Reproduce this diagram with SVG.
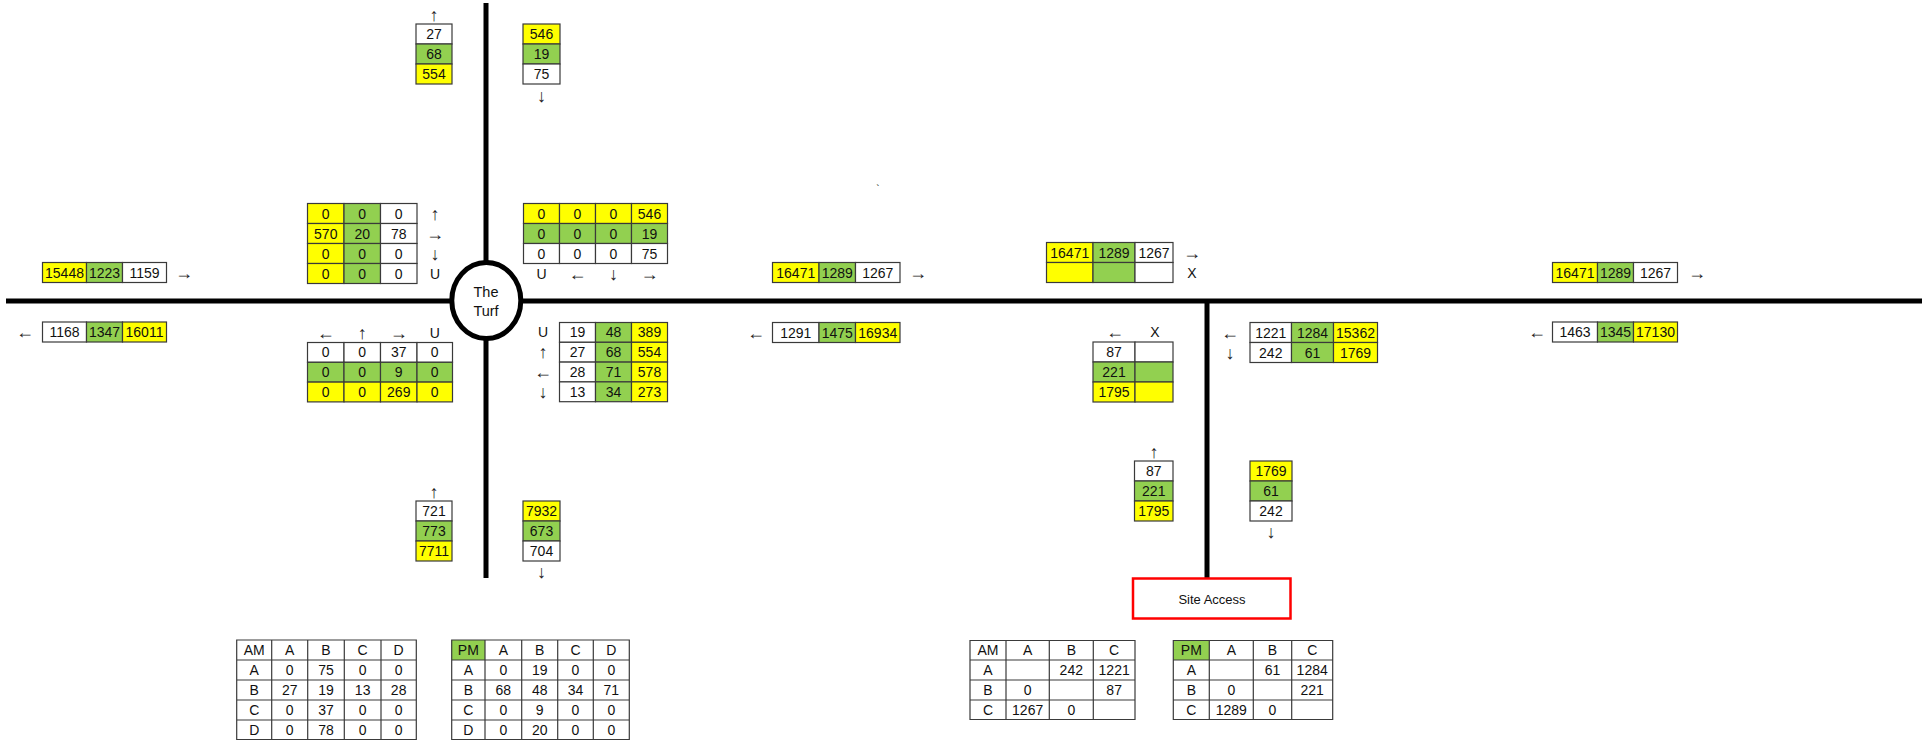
<svg xmlns="http://www.w3.org/2000/svg" width="1927" height="742" viewBox="0 0 1927 742">
<style>
.c{stroke:#3a3a3a;stroke-width:1.2}
.y{fill:#ffff00}.g{fill:#92d050}.w{fill:#ffffff}
.tb{fill:none;stroke:#3a3a3a;stroke-width:1.2}
text{font-family:"Liberation Sans",Arial,sans-serif;font-size:14px;text-anchor:middle;dominant-baseline:central;fill:#111}
.a{font-family:"Liberation Sans","DejaVu Sans",sans-serif;font-size:18px;fill:#222}
.road{stroke:#000;stroke-width:5;fill:none}
</style>
<rect width="1927" height="742" fill="#fff"/>

<g id="connectors">
<line class="road" x1="6" y1="301" x2="1922" y2="301"/>
<line class="road" x1="486" y1="3" x2="486" y2="578"/>
<line class="road" x1="1207" y1="301" x2="1207" y2="578"/>
</g>

<g id="the-turf">
<ellipse cx="486.3" cy="300.5" rx="34.5" ry="38" fill="#fff" stroke="#000" stroke-width="5"/>
<text x="486" y="292" style="font-size:14.5px">The</text>
<text x="486" y="311" style="font-size:14.5px">Turf</text>
</g>

<g id="north-in">
<text class="a" x="434" y="15">↑</text>
<rect class="c w" x="416" y="24" width="36" height="20"/><text x="434" y="34">27</text>
<rect class="c g" x="416" y="44" width="36" height="20"/><text x="434" y="54">68</text>
<rect class="c y" x="416" y="64" width="36" height="20"/><text x="434" y="74">554</text>
</g>
<g id="north-out">
<rect class="c y" x="523" y="24" width="37" height="20"/><text x="541.5" y="34">546</text>
<rect class="c g" x="523" y="44" width="37" height="20"/><text x="541.5" y="54">19</text>
<rect class="c w" x="523" y="64" width="37" height="20"/><text x="541.5" y="74">75</text>
<text class="a" x="541.5" y="96">↓</text>
</g>

<g id="turf-nw-grid">
<rect class="c y" x="307.5" y="203.5" width="36.5" height="20"/><text x="325.75" y="213.5">0</text>
<rect class="c g" x="344" y="203.5" width="36.5" height="20"/><text x="362.25" y="213.5">0</text>
<rect class="c w" x="380.5" y="203.5" width="36.5" height="20"/><text x="398.75" y="213.5">0</text>
<text class="a" x="435" y="213.5">↑</text>
<rect class="c y" x="307.5" y="223.5" width="36.5" height="20"/><text x="325.75" y="233.5">570</text>
<rect class="c g" x="344" y="223.5" width="36.5" height="20"/><text x="362.25" y="233.5">20</text>
<rect class="c w" x="380.5" y="223.5" width="36.5" height="20"/><text x="398.75" y="233.5">78</text>
<text class="a" x="435" y="233.5">→</text>
<rect class="c y" x="307.5" y="243.5" width="36.5" height="20"/><text x="325.75" y="253.5">0</text>
<rect class="c g" x="344" y="243.5" width="36.5" height="20"/><text x="362.25" y="253.5">0</text>
<rect class="c w" x="380.5" y="243.5" width="36.5" height="20"/><text x="398.75" y="253.5">0</text>
<text class="a" x="435" y="253.5">↓</text>
<rect class="c y" x="307.5" y="263.5" width="36.5" height="20"/><text x="325.75" y="273.5">0</text>
<rect class="c g" x="344" y="263.5" width="36.5" height="20"/><text x="362.25" y="273.5">0</text>
<rect class="c w" x="380.5" y="263.5" width="36.5" height="20"/><text x="398.75" y="273.5">0</text>
<text x="435" y="273.5">U</text>
</g>

<g id="turf-ne-grid">
<rect class="c y" x="523.5" y="203.5" width="36" height="20"/><text x="541.5" y="213.5">0</text>
<rect class="c y" x="559.5" y="203.5" width="36" height="20"/><text x="577.5" y="213.5">0</text>
<rect class="c y" x="595.5" y="203.5" width="36" height="20"/><text x="613.5" y="213.5">0</text>
<rect class="c y" x="631.5" y="203.5" width="36" height="20"/><text x="649.5" y="213.5">546</text>
<rect class="c g" x="523.5" y="223.5" width="36" height="20"/><text x="541.5" y="233.5">0</text>
<rect class="c g" x="559.5" y="223.5" width="36" height="20"/><text x="577.5" y="233.5">0</text>
<rect class="c g" x="595.5" y="223.5" width="36" height="20"/><text x="613.5" y="233.5">0</text>
<rect class="c g" x="631.5" y="223.5" width="36" height="20"/><text x="649.5" y="233.5">19</text>
<rect class="c w" x="523.5" y="243.5" width="36" height="20"/><text x="541.5" y="253.5">0</text>
<rect class="c w" x="559.5" y="243.5" width="36" height="20"/><text x="577.5" y="253.5">0</text>
<rect class="c w" x="595.5" y="243.5" width="36" height="20"/><text x="613.5" y="253.5">0</text>
<rect class="c w" x="631.5" y="243.5" width="36" height="20"/><text x="649.5" y="253.5">75</text>
<text x="541.5" y="273.5">U</text>
<text class="a" x="577.5" y="273.5">←</text>
<text class="a" x="613.5" y="273.5">↓</text>
<text class="a" x="649.5" y="273.5">→</text>
</g>

<g id="turf-sw-grid">
<text class="a" x="325.75" y="332.5">←</text>
<text class="a" x="362.25" y="332.5">↑</text>
<text class="a" x="398.75" y="332.5">→</text>
<text x="434.75" y="332.5">U</text>
<rect class="c w" x="307.5" y="342.5" width="36.5" height="19.8"/><text x="325.75" y="352.4">0</text>
<rect class="c w" x="344" y="342.5" width="36.5" height="19.8"/><text x="362.25" y="352.4">0</text>
<rect class="c w" x="380.5" y="342.5" width="36.5" height="19.8"/><text x="398.75" y="352.4">37</text>
<rect class="c w" x="417" y="342.5" width="35.5" height="19.8"/><text x="434.75" y="352.4">0</text>
<rect class="c g" x="307.5" y="362.3" width="36.5" height="19.8"/><text x="325.75" y="372.2">0</text>
<rect class="c g" x="344" y="362.3" width="36.5" height="19.8"/><text x="362.25" y="372.2">0</text>
<rect class="c g" x="380.5" y="362.3" width="36.5" height="19.8"/><text x="398.75" y="372.2">9</text>
<rect class="c g" x="417" y="362.3" width="35.5" height="19.8"/><text x="434.75" y="372.2">0</text>
<rect class="c y" x="307.5" y="382.1" width="36.5" height="19.8"/><text x="325.75" y="392">0</text>
<rect class="c y" x="344" y="382.1" width="36.5" height="19.8"/><text x="362.25" y="392">0</text>
<rect class="c y" x="380.5" y="382.1" width="36.5" height="19.8"/><text x="398.75" y="392">269</text>
<rect class="c y" x="417" y="382.1" width="35.5" height="19.8"/><text x="434.75" y="392">0</text>
</g>

<g id="turf-se-grid">
<text x="543" y="332.4">U</text>
<rect class="c w" x="559.5" y="322.5" width="36" height="19.8"/><text x="577.5" y="332.4">19</text>
<rect class="c g" x="595.5" y="322.5" width="36" height="19.8"/><text x="613.5" y="332.4">48</text>
<rect class="c y" x="631.5" y="322.5" width="36" height="19.8"/><text x="649.5" y="332.4">389</text>
<text class="a" x="543" y="352.2">↑</text>
<rect class="c w" x="559.5" y="342.3" width="36" height="19.8"/><text x="577.5" y="352.2">27</text>
<rect class="c g" x="595.5" y="342.3" width="36" height="19.8"/><text x="613.5" y="352.2">68</text>
<rect class="c y" x="631.5" y="342.3" width="36" height="19.8"/><text x="649.5" y="352.2">554</text>
<text class="a" x="543" y="372">←</text>
<rect class="c w" x="559.5" y="362.1" width="36" height="19.8"/><text x="577.5" y="372">28</text>
<rect class="c g" x="595.5" y="362.1" width="36" height="19.8"/><text x="613.5" y="372">71</text>
<rect class="c y" x="631.5" y="362.1" width="36" height="19.8"/><text x="649.5" y="372">578</text>
<text class="a" x="543" y="391.8">↓</text>
<rect class="c w" x="559.5" y="381.9" width="36" height="19.8"/><text x="577.5" y="391.8">13</text>
<rect class="c g" x="595.5" y="381.9" width="36" height="19.8"/><text x="613.5" y="391.8">34</text>
<rect class="c y" x="631.5" y="381.9" width="36" height="19.8"/><text x="649.5" y="391.8">273</text>
</g>

<g id="south-in">
<text class="a" x="434" y="491.5">↑</text>
<rect class="c w" x="416" y="501" width="36" height="20"/><text x="434" y="511">721</text>
<rect class="c g" x="416" y="521" width="36" height="20"/><text x="434" y="531">773</text>
<rect class="c y" x="416" y="541" width="36" height="20"/><text x="434" y="551">7711</text>
</g>
<g id="south-out">
<rect class="c y" x="523" y="501" width="37" height="20"/><text x="541.5" y="511">7932</text>
<rect class="c g" x="523" y="521" width="37" height="20"/><text x="541.5" y="531">673</text>
<rect class="c w" x="523" y="541" width="37" height="20"/><text x="541.5" y="551">704</text>
<text class="a" x="541.5" y="572">↓</text>
</g>

<g id="west-eastbound">
<rect class="c y" x="42.5" y="262.5" width="44" height="20"/><text x="64.5" y="272.5">15448</text>
<rect class="c g" x="86.5" y="262.5" width="36" height="20"/><text x="104.5" y="272.5">1223</text>
<rect class="c w" x="122.5" y="262.5" width="44" height="20"/><text x="144.5" y="272.5">1159</text>
<text class="a" x="184" y="272.5">→</text>
</g>
<g id="west-westbound">
<text class="a" x="25" y="332">←</text>
<rect class="c w" x="42.5" y="322" width="44" height="20"/><text x="64.5" y="332">1168</text>
<rect class="c g" x="86.5" y="322" width="36" height="20"/><text x="104.5" y="332">1347</text>
<rect class="c y" x="122.5" y="322" width="44" height="20"/><text x="144.5" y="332">16011</text>
</g>

<g id="mid-eastbound">
<rect class="c y" x="772.5" y="262.5" width="46.5" height="20"/><text x="795.75" y="272.5">16471</text>
<rect class="c g" x="819" y="262.5" width="36.5" height="20"/><text x="837.25" y="272.5">1289</text>
<rect class="c w" x="855.5" y="262.5" width="44.5" height="20"/><text x="877.75" y="272.5">1267</text>
<text class="a" x="918" y="272.5">→</text>
</g>
<g id="mid-westbound">
<text class="a" x="756" y="332.5">←</text>
<rect class="c w" x="772.5" y="322.5" width="46.5" height="20"/><text x="795.75" y="332.5">1291</text>
<rect class="c g" x="819" y="322.5" width="36.5" height="20"/><text x="837.25" y="332.5">1475</text>
<rect class="c y" x="855.5" y="322.5" width="44.5" height="20"/><text x="877.75" y="332.5">16934</text>
</g>
<text x="878" y="189" style="font-size:10px">`</text>

<g id="sa-west-grid">
<rect class="c y" x="1046.5" y="242.5" width="46.5" height="20"/><text x="1069.75" y="252.5">16471</text>
<rect class="c g" x="1093" y="242.5" width="42" height="20"/><text x="1114" y="252.5">1289</text>
<rect class="c w" x="1135" y="242.5" width="38" height="20"/><text x="1154" y="252.5">1267</text>
<text class="a" x="1192" y="252.5">→</text>
<rect class="c y" x="1046.5" y="262.5" width="46.5" height="20"/>
<rect class="c g" x="1093" y="262.5" width="42" height="20"/>
<rect class="c w" x="1135" y="262.5" width="38" height="20"/>
<text x="1192" y="272.5">X</text>
</g>

<g id="sa-westbound-grid">
<text class="a" x="1115" y="332">←</text>
<text x="1155" y="332">X</text>
<rect class="c w" x="1093" y="342" width="42" height="20"/><text x="1114" y="352">87</text>
<rect class="c w" x="1135" y="342" width="38" height="20"/>
<rect class="c g" x="1093" y="362" width="42" height="20"/><text x="1114" y="372">221</text>
<rect class="c g" x="1135" y="362" width="38" height="20"/>
<rect class="c y" x="1093" y="382" width="42" height="20"/><text x="1114" y="392">1795</text>
<rect class="c y" x="1135" y="382" width="38" height="20"/>
</g>

<g id="sa-east-grid">
<text class="a" x="1230" y="332.5">←</text>
<rect class="c w" x="1250" y="322.5" width="41.5" height="20"/><text x="1270.75" y="332.5">1221</text>
<rect class="c g" x="1291.5" y="322.5" width="42" height="20"/><text x="1312.5" y="332.5">1284</text>
<rect class="c y" x="1333.5" y="322.5" width="44" height="20"/><text x="1355.5" y="332.5">15362</text>
<text class="a" x="1230" y="352.5">↓</text>
<rect class="c w" x="1250" y="342.5" width="41.5" height="20"/><text x="1270.75" y="352.5">242</text>
<rect class="c g" x="1291.5" y="342.5" width="42" height="20"/><text x="1312.5" y="352.5">61</text>
<rect class="c y" x="1333.5" y="342.5" width="44" height="20"/><text x="1355.5" y="352.5">1769</text>
</g>

<g id="sa-in">
<text class="a" x="1154" y="451.5">↑</text>
<rect class="c w" x="1134.5" y="461" width="38.5" height="20"/><text x="1153.75" y="471">87</text>
<rect class="c g" x="1134.5" y="481" width="38.5" height="20"/><text x="1153.75" y="491">221</text>
<rect class="c y" x="1134.5" y="501" width="38.5" height="20"/><text x="1153.75" y="511">1795</text>
</g>
<g id="sa-out">
<rect class="c y" x="1250" y="461" width="42" height="20"/><text x="1271" y="471">1769</text>
<rect class="c g" x="1250" y="481" width="42" height="20"/><text x="1271" y="491">61</text>
<rect class="c w" x="1250" y="501" width="42" height="20"/><text x="1271" y="511">242</text>
<text class="a" x="1271" y="532">↓</text>
</g>

<g id="east-eastbound">
<rect class="c y" x="1552.5" y="262.5" width="45" height="20"/><text x="1575" y="272.5">16471</text>
<rect class="c g" x="1597.5" y="262.5" width="36" height="20"/><text x="1615.5" y="272.5">1289</text>
<rect class="c w" x="1633.5" y="262.5" width="44" height="20"/><text x="1655.5" y="272.5">1267</text>
<text class="a" x="1697" y="272.5">→</text>
</g>
<g id="east-westbound">
<text class="a" x="1537" y="332">←</text>
<rect class="c w" x="1552.5" y="322" width="45" height="20"/><text x="1575" y="332">1463</text>
<rect class="c g" x="1597.5" y="322" width="36" height="20"/><text x="1615.5" y="332">1345</text>
<rect class="c y" x="1633.5" y="322" width="44" height="20"/><text x="1655.5" y="332">17130</text>
</g>

<g id="site-access">
<rect x="1133" y="578.5" width="157.5" height="40" fill="#fff" stroke="#ff0000" stroke-width="2.5"/>
<text x="1212" y="599" style="font-size:13px">Site Access</text>
</g>

<g id="turf-am-table">
<rect x="236.7" y="640" width="179.6" height="99.5" fill="#fff"/>
<path class="tb" d="M236.7 640H416.3V739.5H236.7Z M271.7 640V739.5 M307.7 640V739.5 M344.3 640V739.5 M381 640V739.5 M236.7 660H416.3 M236.7 680H416.3 M236.7 700H416.3 M236.7 720H416.3"/>
<text x="254.2" y="650">AM</text><text x="289.7" y="650">A</text><text x="326" y="650">B</text><text x="362.65" y="650">C</text><text x="398.65" y="650">D</text>
<text x="254.2" y="670">A</text><text x="289.7" y="670">0</text><text x="326" y="670">75</text><text x="362.65" y="670">0</text><text x="398.65" y="670">0</text>
<text x="254.2" y="690">B</text><text x="289.7" y="690">27</text><text x="326" y="690">19</text><text x="362.65" y="690">13</text><text x="398.65" y="690">28</text>
<text x="254.2" y="710">C</text><text x="289.7" y="710">0</text><text x="326" y="710">37</text><text x="362.65" y="710">0</text><text x="398.65" y="710">0</text>
<text x="254.2" y="729.75">D</text><text x="289.7" y="729.75">0</text><text x="326" y="729.75">78</text><text x="362.65" y="729.75">0</text><text x="398.65" y="729.75">0</text>
</g>

<g id="turf-pm-table">
<rect x="451.7" y="640" width="177.6" height="99.5" fill="#fff"/>
<rect x="451.7" y="640" width="33.3" height="20" class="g"/>
<path class="tb" d="M451.7 640H629.3V739.5H451.7Z M485 640V739.5 M521.7 640V739.5 M557.7 640V739.5 M593.3 640V739.5 M451.7 660H629.3 M451.7 680H629.3 M451.7 700H629.3 M451.7 720H629.3"/>
<text x="468.35" y="650">PM</text><text x="503.35" y="650">A</text><text x="539.7" y="650">B</text><text x="575.5" y="650">C</text><text x="611.3" y="650">D</text>
<text x="468.35" y="670">A</text><text x="503.35" y="670">0</text><text x="539.7" y="670">19</text><text x="575.5" y="670">0</text><text x="611.3" y="670">0</text>
<text x="468.35" y="690">B</text><text x="503.35" y="690">68</text><text x="539.7" y="690">48</text><text x="575.5" y="690">34</text><text x="611.3" y="690">71</text>
<text x="468.35" y="710">C</text><text x="503.35" y="710">0</text><text x="539.7" y="710">9</text><text x="575.5" y="710">0</text><text x="611.3" y="710">0</text>
<text x="468.35" y="729.75">D</text><text x="503.35" y="729.75">0</text><text x="539.7" y="729.75">20</text><text x="575.5" y="729.75">0</text><text x="611.3" y="729.75">0</text>
</g>

<g id="sa-am-table">
<rect x="970" y="640.5" width="165" height="79" fill="#fff"/>
<path class="tb" d="M970 640.5H1135V719.5H970Z M1006 640.5V719.5 M1049.3 640.5V719.5 M1093.3 640.5V719.5 M970 660H1135 M970 680H1135 M970 700H1135"/>
<text x="988" y="650.25">AM</text><text x="1027.65" y="650.25">A</text><text x="1071.3" y="650.25">B</text><text x="1114.15" y="650.25">C</text>
<text x="988" y="670">A</text><text x="1071.3" y="670">242</text><text x="1114.15" y="670">1221</text>
<text x="988" y="690">B</text><text x="1027.65" y="690">0</text><text x="1114.15" y="690">87</text>
<text x="988" y="709.75">C</text><text x="1027.65" y="709.75">1267</text><text x="1071.3" y="709.75">0</text>
</g>

<g id="sa-pm-table">
<rect x="1173.3" y="640.5" width="159.4" height="79" fill="#fff"/>
<rect x="1173.3" y="640.5" width="36" height="19.5" class="g"/>
<path class="tb" d="M1173.3 640.5H1332.7V719.5H1173.3Z M1209.3 640.5V719.5 M1253.3 640.5V719.5 M1291.7 640.5V719.5 M1173.3 660H1332.7 M1173.3 680H1332.7 M1173.3 700H1332.7"/>
<text x="1191.3" y="650.25">PM</text><text x="1231.3" y="650.25">A</text><text x="1272.5" y="650.25">B</text><text x="1312.2" y="650.25">C</text>
<text x="1191.3" y="670">A</text><text x="1272.5" y="670">61</text><text x="1312.2" y="670">1284</text>
<text x="1191.3" y="690">B</text><text x="1231.3" y="690">0</text><text x="1312.2" y="690">221</text>
<text x="1191.3" y="709.75">C</text><text x="1231.3" y="709.75">1289</text><text x="1272.5" y="709.75">0</text>
</g>
</svg>
